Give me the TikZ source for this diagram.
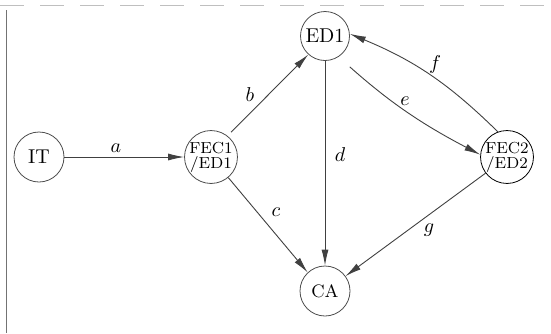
\documentclass[tikz,border=0pt]{standalone}
\usetikzlibrary{arrows.meta}
\begin{document}
\begin{tikzpicture}[x=0.5pt,y=-0.5pt,
  state/.style={circle,draw=black!70,line width=0.4pt,inner sep=0pt,font=\normalsize},
  small/.style={state,font=\footnotesize,align=center},
  conn/.style={draw=black!75,line width=0.45pt,-{Latex[length=8pt,width=3.5pt]}},
  lbl/.style={inner sep=0pt,font=\normalsize}]
\useasboundingbox (0,0) rectangle (551,333);
% frame
\draw[black!55,line width=0.5pt] (6,10) -- (6,333);
\draw[black!25,line width=0.4pt,dash pattern=on 12pt off 8pt] (0,5) -- (551,5);
% nodes
\node[state,minimum size=25pt] (IT) at (39,157) {IT};
\node[small,minimum size=25.5pt] (F1) at (211,157) {FEC1\\[-2pt]/ED1};
\node[state,minimum size=24.5pt] (ED) at (325,36) {ED1};
\node[state,minimum size=25pt,font=\small] (CA) at (325,291) {CA};
\node[small,minimum size=26pt,draw=black] (F2) at (507,157) {FEC2\\[-2pt]/ED2};
% connectors
\draw[conn] (IT) -- (F1);
\draw[conn,shorten <=2.5pt] (F1.52) -- (ED.228);
\draw[conn] (F1.-50) -- (CA.133);
\draw[conn] (ED) -- (CA);
\draw[conn,shorten <=7.5pt] (ED.-57) to[bend right=7] (F2.175);
\draw[conn] (F2.110) to[bend right=11] (ED.5);
\draw[conn] (F2.217) -- (CA.36);
% labels
\node[lbl] (la) at (116,148) {$a$};
\node[lbl] (lb) at (250,95) {$b$};
\node[lbl] (lc) at (276,212) {$c$};
\node[lbl] (ld) at (340,155) {$d$};
\node[lbl] (le) at (405,101) {$e$};
\node[lbl] (lf) at (435,64) {$f$};
\node[lbl] (lg) at (429,230) {$g$};
\end{tikzpicture}
\end{document}
